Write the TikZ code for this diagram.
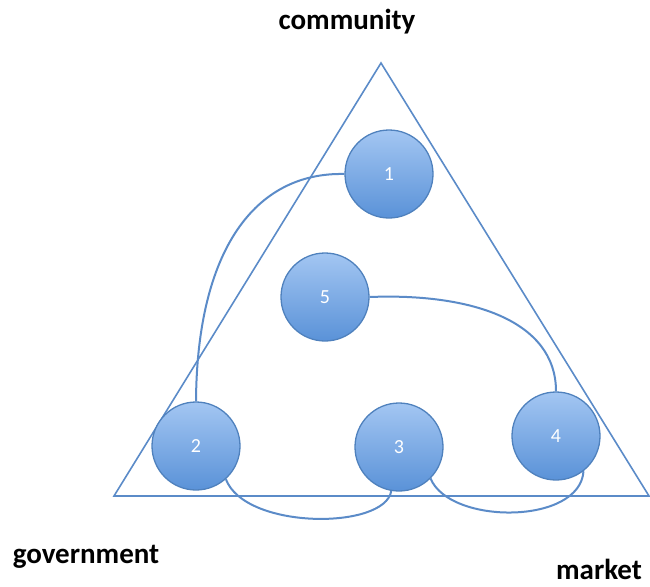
\documentclass[tikz,border=0pt]{standalone}
\usepackage{fontspec}
\setmainfont{Carlito}
\usetikzlibrary{backgrounds}
\definecolor{edgeblue}{HTML}{5B8BC8}
\definecolor{ringblue}{HTML}{4F81BD}
\definecolor{topblue}{HTML}{A3C6F2}
\definecolor{botblue}{HTML}{5A92D8}
\tikzset{
  ball/.style={circle, draw=ringblue, line width=1.3pt, minimum size=88pt, inner sep=0pt,
    top color=topblue, bottom color=botblue, text=white, font=\fontsize{20}{20}\selectfont},
  link/.style={draw=edgeblue, line width=2pt},
  corner/.style={font=\bfseries\fontsize{29}{29}\selectfont, text=black}
}
\begin{document}
\begin{tikzpicture}[x=1pt,y=-1pt]
\useasboundingbox (0,0) rectangle (650,586);
% labels of the three corners
\node[corner] (lc) at (347,22) {community};
\node[corner] (lg) at (86,557) {government};
\node[corner] (lm) at (599,569) {market};
% the numbered circles
\node[ball] (c1) at (389,174) {1};
\node[ball] (c5) at (325,297) {5};
\node[ball] (c2) at (196,446) {2};
\node[ball] (c3) at (399,447) {3};
\node[ball] (c4) at (556,436) {4};
\begin{scope}[on background layer]
  % triangle
  \coordinate (ta) at (381,63);
  \coordinate (tl) at (114,496);
  \coordinate (tr) at (649,496);
  \draw[link, line width=1.6pt] (ta) -- (tl) -- (tr) -- cycle;
  % connecting curves
  \draw[link] (c1.180) .. controls (255,172) and (197,250) .. (c2.90);
  \draw[link] (c5.0) .. controls (470,293) and (556,320) .. (c4.90);
  \draw[link] (c2.-48) .. controls (245,530) and (385,530) .. (c3.-100);
  \draw[link] (c3.-45) .. controls (450,525) and (580,525) .. (c4.-52);
\end{scope}
\end{tikzpicture}
\end{document}
